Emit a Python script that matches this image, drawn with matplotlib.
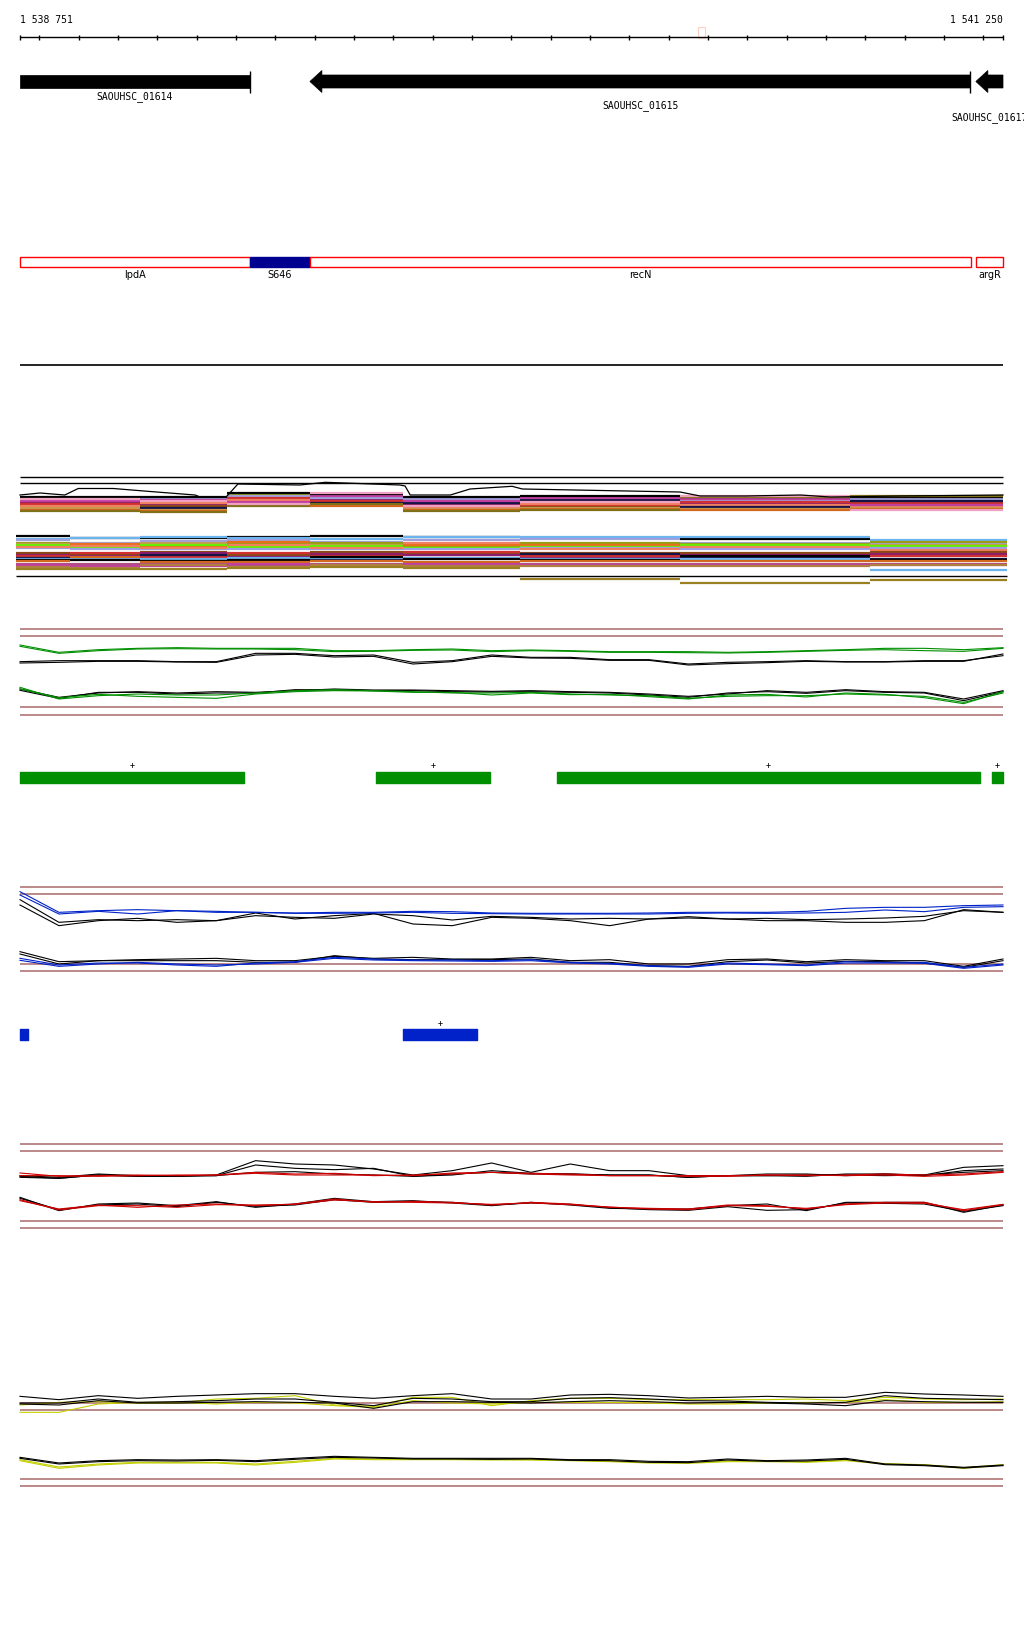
import matplotlib
matplotlib.use('Agg')
import matplotlib.pyplot as plt
from matplotlib.patches import Polygon, Rectangle

W_PX, H_PX = 1024, 1640
PX_LEFT, PX_RIGHT = 20, 1003

VIEW_START = 1538751
VIEW_END = 1541250
tick_step = 100

# genes, all on the minus strand
gene_names = ['SAOUHSC_01614', 'SAOUHSC_01615', 'SAOUHSC_01617']
gene_start = [1538420, 1539488, 1541181]
gene_end = [1539336, 1541167, 1541720]
gene_label_row = [0, 1, 2]

# annotations
ann_names = ['lpdA', 'S646', 'recN', 'argR']
ann_start = [1538420, 1539336, 1539488, 1541181]
ann_end = [1539336, 1539488, 1541169, 1541720]
ann_kind = ['cds', 'srna', 'cds', 'cds']

# transcribed regions
green_start = [1538751, 1539656, 1540116, 1541222]
green_end = [1539320, 1539946, 1541191, 1541250]
green_strand = ['+', '+', '+', '+']
blue_start = [1538751, 1539725]
blue_end = [1538771, 1539913]
blue_strand = ['', '+']

# condition tracks: step segments
edges_a = [1538751, 1539056, 1539277, 1539488, 1539725, 1540023, 1540429, 1540862, 1541250]
edges_b = [1538741, 1538878, 1539056, 1539277, 1539488, 1539725, 1540023, 1540429, 1540913, 1541259]

levels_a = [
    ('#e8701a', [29, 33, 26, 30, 31, 28, 35, 29]),
    ('#6cb4f0', [30, 30, 28, 27, 29, 30, 29, 31]),
    ('#9c9c14', [33, 36, 25, 33, 35, 34, 32, 33]),
    ('#66ee00', [36, 38, 30, 28, 33, 36, 37, 35]),
    ('#8b1c6e', [34, 35, 32, 31, 36, 33, 34, 37]),
    ('#a0a0dc', [31, 29, 27, 29, 30, 32, 31, 30]),
    ('#d03030', [35, 40, 29, 32, 38, 37, 33, 34]),
    ('#8b4a14', [38, 37, 33, 35, 37, 38, 39, 36]),
    ('#f08060', [37, 34, 31, 26, 39, 35, 36, 38]),
    ('#141446', [40, 39, 35, 34, 34, 31, 38, 32]),
    ('#c89a50', [39, 41, 34, 36, 40, 39, 40, 39]),
    ('#d2691e', [41, 42, 36, 37, 41, 40, 41, 40]),
    ('#c040a0', [32, 31, 33, 27, 32, 29, 30, 36]),
    ('#000000', [28, 28, 24, 25, 28, 27, 28, 28]),
    ('#807018', [42, 43, 37, 35, 42, 41, 28, 27]),
    ('#f0a0c0', [30, 32, 35, 24, 37, 33, 27, 41]),
]
levels_b = [
    ('#000000', [67, 69, 69, 68, 67, 68, 69, 70, 72]),
    ('#6cb4f0', [70, 69, 68, 69, 70, 68, 68, 68, 71]),
    ('#a0a0dc', [71, 74, 72, 71, 73, 71, 70, 74, 75]),
    ('#9c9c14', [74, 76, 77, 75, 74, 77, 74, 75, 73]),
    ('#c89a50', [75, 78, 74, 77, 76, 75, 77, 77, 76]),
    ('#e8701a', [77, 75, 78, 73, 78, 76, 76, 79, 78]),
    ('#66ee00', [76, 79, 76, 78, 77, 79, 78, 76, 77]),
    ('#9aa0e8', [79, 80, 80, 80, 80, 80, 79, 80, 79]),
    ('#f08060', [78, 77, 79, 76, 79, 74, 80, 78, 81]),
    ('#8b4a14', [84, 85, 83, 86, 83, 85, 84, 84, 83]),
    ('#8b1c6e', [86, 87, 84, 88, 85, 86, 88, 86, 85]),
    ('#d03030', [87, 84, 88, 84, 87, 83, 87, 88, 87]),
    ('#141446', [89, 90, 86, 90, 90, 89, 85, 89, 90]),
    ('#6cb4f0', [90, 89, 90, 89, 89, 89, 90, 90, 101]),
    ('#000000', [91, 91, 92, 91, 88, 90, 91, 87, 91]),
    ('#d2691e', [92, 88, 93, 93, 92, 93, 92, 92, 92]),
    ('#b05080', [95, 95, 95, 96, 95, 96, 95, 95, 95]),
    ('#c040a0', [96, 97, 97, 95, 97, 95, 96, 96, 96]),
    ('#b08040', [98, 99, 96, 98, 96, 97, 97, 97, 96]),
    ('#9a8020', [100, 100, 100, 99, 98, 99, 110, 114, 111]),
]
wave_pos = [1538751, 1538802, 1538865, 1538899, 1538988, 1539082, 1539196, 1539209, 1539275,
            1539305, 1539463, 1539527, 1539717, 1539730, 1539743, 1539845, 1539895, 1540002,
            1540028, 1540429, 1540480, 1540595, 1540735, 1540811, 1540989, 1541250]
wave_val = [26, 24, 26, 19.5, 19.5, 22.5, 26, 28, 28, 15, 16, 13.3, 16, 17, 26, 26, 20, 17.3,
            20, 23, 27, 27, 26, 28, 27, 26]

# coverage traces, sampled every 100 bp
pos = [VIEW_START] + list(range(1538850, VIEW_END, 100)) + [VIEW_END]

g_up_green1 = [78, 100, 92, 88, 86, 88, 88, 88, 95, 95, 92, 90, 95, 93, 95, 98, 98, 98, 100, 98, 95, 92, 88, 88, 92, 86]
g_up_green2 = [82, 103, 95, 90, 89, 90, 90, 92, 98, 97, 94, 93, 98, 95, 97, 100, 100, 101, 102, 100, 97, 94, 92, 95, 97, 88]
g_up_black1 = [128, 125, 125, 125, 128, 128, 103, 103, 110, 108, 130, 125, 108, 115, 115, 122, 122, 135, 130, 128, 125, 128, 128, 125, 125, 110]
g_up_black2 = [132, 130, 127, 127, 129, 130, 108, 106, 114, 112, 135, 128, 112, 117, 118, 124, 124, 138, 134, 131, 127, 129, 129, 127, 127, 105]
g_lo_black1 = [210, 235, 222, 218, 222, 218, 220, 215, 210, 213, 213, 215, 217, 215, 218, 220, 225, 232, 225, 215, 220, 212, 218, 220, 240, 215]
g_lo_black2 = [214, 238, 220, 220, 225, 222, 222, 212, 213, 215, 215, 218, 219, 218, 220, 222, 228, 235, 222, 218, 223, 215, 220, 222, 245, 218]
g_lo_green1 = [205, 240, 230, 225, 228, 228, 222, 215, 212, 215, 218, 222, 222, 220, 225, 228, 230, 238, 232, 230, 230, 225, 228, 232, 250, 222]
g_lo_green2 = [210, 236, 226, 232, 235, 238, 225, 218, 215, 216, 220, 220, 228, 222, 227, 226, 233, 240, 228, 226, 234, 222, 226, 236, 254, 218]

b_up_blue1 = [38, 100, 95, 92, 95, 97, 100, 102, 100, 100, 97, 98, 102, 103, 103, 103, 102, 100, 100, 100, 97, 88, 85, 85, 80, 78]
b_up_blue2 = [48, 105, 97, 105, 95, 100, 100, 103, 103, 102, 100, 103, 104, 105, 105, 105, 105, 103, 102, 103, 102, 100, 93, 98, 85, 83]
b_up_black1 = [62, 130, 122, 125, 122, 125, 110, 115, 118, 105, 110, 123, 112, 115, 120, 118, 120, 117, 120, 118, 122, 120, 117, 112, 95, 100]
b_up_black2 = [78, 140, 125, 118, 130, 125, 102, 120, 110, 103, 135, 140, 115, 118, 125, 140, 120, 113, 120, 125, 125, 130, 130, 125, 92, 100]
b_lo_black1 = [218, 248, 245, 242, 240, 238, 245, 245, 232, 238, 235, 240, 240, 235, 245, 242, 255, 255, 242, 240, 248, 242, 245, 245, 262, 240]
b_lo_black2 = [225, 255, 245, 245, 245, 245, 250, 250, 230, 240, 242, 242, 242, 240, 250, 250, 260, 262, 248, 243, 252, 247, 248, 252, 265, 245]
b_lo_blue1 = [238, 258, 252, 252, 258, 262, 252, 248, 235, 240, 243, 243, 245, 242, 250, 253, 260, 263, 252, 255, 258, 248, 250, 250, 265, 255]
b_lo_blue2 = [244, 262, 255, 250, 255, 258, 255, 250, 238, 243, 245, 246, 247, 245, 252, 255, 262, 265, 255, 257, 260, 252, 252, 253, 268, 258]

r_up_black1 = [110, 115, 105, 110, 112, 108, 65, 75, 78, 90, 108, 95, 72, 100, 75, 95, 95, 110, 110, 105, 105, 110, 105, 108, 85, 80]
r_up_black2 = [115, 118, 108, 112, 112, 110, 78, 88, 92, 88, 112, 108, 95, 103, 105, 108, 108, 115, 110, 110, 112, 105, 105, 110, 95, 90]
r_up_black3 = [112, 118, 108, 112, 110, 110, 100, 98, 105, 108, 112, 105, 100, 105, 105, 108, 108, 115, 110, 110, 108, 108, 110, 108, 100, 95]
r_up_red1 = [102, 112, 110, 108, 110, 108, 100, 105, 103, 110, 108, 105, 100, 105, 108, 110, 110, 110, 110, 108, 110, 108, 105, 108, 105, 98]
r_up_red2 = [110, 110, 112, 110, 108, 108, 103, 108, 108, 108, 110, 102, 100, 103, 105, 110, 110, 112, 112, 108, 108, 110, 108, 112, 108, 100]
r_lo_black1 = [175, 215, 195, 192, 200, 188, 205, 195, 178, 188, 185, 192, 200, 190, 198, 208, 210, 210, 200, 195, 215, 190, 190, 190, 220, 198]
r_lo_black2 = [178, 212, 198, 195, 203, 190, 202, 198, 182, 190, 188, 190, 198, 192, 196, 206, 212, 214, 203, 214, 212, 192, 193, 195, 217, 200]
r_lo_red1 = [185, 210, 198, 205, 198, 195, 200, 195, 180, 190, 187, 190, 198, 190, 195, 205, 208, 210, 198, 200, 210, 195, 190, 190, 215, 197]
r_lo_red2 = [182, 213, 200, 200, 205, 197, 198, 196, 183, 188, 190, 192, 196, 192, 197, 204, 210, 212, 200, 202, 208, 197, 192, 193, 212, 196]

y_up_black1 = [52, 62, 50, 58, 52, 48, 44, 44, 52, 58, 50, 44, 60, 60, 48, 46, 50, 57, 55, 52, 55, 55, 40, 45, 48, 52]
y_up_black2 = [72, 72, 60, 70, 68, 65, 60, 60, 70, 80, 58, 60, 68, 68, 58, 56, 60, 65, 66, 70, 72, 70, 50, 58, 60, 62]
y_up_black3 = [75, 78, 65, 72, 72, 70, 68, 70, 72, 88, 68, 68, 70, 72, 68, 65, 68, 72, 70, 72, 75, 80, 65, 68, 70, 70]
y_up_yellow1 = [78, 70, 68, 72, 72, 60, 58, 50, 78, 82, 55, 55, 80, 65, 58, 58, 62, 62, 62, 62, 60, 65, 55, 60, 62, 60]
y_up_yellow2 = [100, 100, 75, 70, 70, 75, 70, 72, 80, 85, 65, 72, 75, 70, 70, 70, 72, 75, 75, 72, 70, 70, 62, 70, 70, 68]
y_lo_black1 = [235, 252, 245, 242, 243, 242, 245, 238, 232, 235, 238, 238, 238, 238, 242, 242, 247, 248, 240, 245, 243, 238, 255, 258, 265, 258]
y_lo_black2 = [238, 255, 248, 245, 246, 244, 248, 241, 235, 237, 240, 240, 241, 240, 244, 245, 250, 251, 243, 247, 246, 241, 257, 260, 267, 260]
y_lo_yellow1 = [245, 268, 258, 252, 252, 252, 258, 250, 240, 242, 242, 242, 243, 243, 245, 248, 252, 253, 248, 248, 250, 245, 255, 258, 268, 258]
y_lo_yellow2 = [242, 264, 255, 250, 250, 250, 255, 247, 238, 240, 240, 240, 241, 242, 244, 246, 250, 251, 246, 246, 248, 243, 254, 257, 266, 257]

REF_COLOR = '#a86a6a'
GREEN = '#008f00'
BLUE = '#0022c8'
RED = '#cc0000'
YELLOW = '#c3cf00'
MONO = 'DejaVu Sans Mono'

bpp = (VIEW_END - VIEW_START) / (PX_RIGHT - PX_LEFT)
XLIM = (VIEW_START - PX_LEFT * bpp, VIEW_END + (W_PX - PX_RIGHT) * bpp)

fig = plt.figure(figsize=(W_PX / 100, H_PX / 100), dpi=100)


def track(top, height, yunits):
    ax = fig.add_axes([0, 1 - (top + height) / H_PX, 1, height / H_PX])
    ax.set_xlim(XLIM)
    ax.set_ylim(yunits, 0)
    ax.axis('off')
    return ax


def visible(s, e):
    return max(s, VIEW_START), min(e, VIEW_END)


# ruler + genes
ax = track(0, 130, 130)
ax.hlines(38, VIEW_START, VIEW_END, color='k', lw=1)
ticks = [VIEW_START] + list(range(1538800, VIEW_END, tick_step)) + [VIEW_END]
ax.vlines(ticks, 35.5, 40.5, color='k', lw=1)
fmt = lambda v: f'{v:,}'.replace(',', ' ')
ax.text(VIEW_START, 20, fmt(VIEW_START), ha='left', va='center', fontsize=7, family=MONO)
ax.text(VIEW_END, 20, fmt(VIEW_END), ha='right', va='center', fontsize=7, family=MONO)
ax.add_patch(Rectangle((1540475, 28), 17, 11, fill=False, ec='#ffd0c0', lw=0.8))

head = 12 * bpp
mid = 82.5
for name, s, e, row in zip(gene_names, gene_start, gene_end, gene_label_row):
    vs, ve = visible(s, e)
    if s >= VIEW_START:
        pts = [(s, mid), (s + head, mid - 11), (s + head, mid - 6.5), (ve, mid - 6.5),
               (ve, mid + 6.5), (s + head, mid + 6.5), (s + head, mid + 11)]
    else:
        pts = [(vs, mid - 6.5), (ve, mid - 6.5), (ve, mid + 6.5), (vs, mid + 6.5)]
    ax.add_patch(Polygon(pts, closed=True, fc='k', ec='k', lw=0.5))
    if e <= VIEW_END:
        ax.vlines(e, mid - 11, mid + 11, color='k', lw=1)
    ax.text((vs + ve) / 2, 97 + [0, 9, 21][row], name, ha='center', va='center',
            fontsize=7, family=MONO)

# annotation boxes
ax = track(240, 140, 140)
for name, s, e, kind in zip(ann_names, ann_start, ann_end, ann_kind):
    vs, ve = visible(s, e)
    if kind == 'srna':
        ax.add_patch(Rectangle((vs, 18.3), ve - vs, 10, fc='#000090', ec='#000090', lw=1))
    else:
        ax.add_patch(Rectangle((vs, 18.3), ve - vs, 10, fc='white', ec='#ff0000', lw=1))
    ax.text((vs + ve) / 2, 35.5, name, ha='center', va='center', fontsize=7)
ax.hlines(126, VIEW_START, VIEW_END, color='k', lw=1.2)

# condition overview track
ax = track(470, 120, 120)
ax.hlines([8.3, 14.3], VIEW_START, VIEW_END, color='k', lw=1)
for c, v in levels_a:
    ax.hlines(v, edges_a[:-1], edges_a[1:], color=c, lw=1.6)
ax.plot(wave_pos, wave_val, color='k', lw=0.9)
for c, v in levels_b:
    ax.hlines(v, edges_b[:-1], edges_b[1:], color=c, lw=1.6)
ax.hlines(107, edges_b[0], edges_b[-1], color='k', lw=1)


def signal_track(top, height, refs, traces):
    ax = track(top, height, 3 * height)
    ax.hlines(refs, VIEW_START, VIEW_END, color=REF_COLOR, lw=1.1)
    for y, c in traces:
        ax.plot(pos, y, color=c, lw=0.8)


def feature_track(top, starts, ends, strands, color, box_top):
    ax = track(top, 50, 50)
    ax.broken_barh([(s, e - s) for s, e in zip(starts, ends)], (box_top, 10.5), color=color)
    for s, e, st in zip(starts, ends, strands):
        ax.text((s + e) / 2, box_top - 7, st, ha='center', va='center', fontsize=6, family=MONO)


signal_track(620, 100, [31, 52, 265, 287], [
    (g_up_green1, GREEN), (g_up_green2, GREEN), (g_up_black1, 'k'), (g_up_black2, 'k'),
    (g_lo_black1, 'k'), (g_lo_black2, 'k'), (g_lo_green1, GREEN), (g_lo_green2, GREEN)])
feature_track(750, green_start, green_end, green_strand, GREEN, 23)

signal_track(880, 100, [25, 46, 256, 277], [
    (b_up_black1, 'k'), (b_up_black2, 'k'), (b_up_blue1, BLUE), (b_up_blue2, BLUE),
    (b_lo_black1, 'k'), (b_lo_black2, 'k'), (b_lo_blue1, BLUE), (b_lo_blue2, BLUE)])
feature_track(1010, blue_start, blue_end, blue_strand, BLUE, 20)

signal_track(1140, 100, [16, 37, 247, 268], [
    (r_up_black1, 'k'), (r_up_black2, 'k'), (r_up_black3, 'k'), (r_up_red1, RED), (r_up_red2, RED),
    (r_lo_black1, 'k'), (r_lo_black2, 'k'), (r_lo_red1, RED), (r_lo_red2, RED)])

signal_track(1380, 120, [71, 92, 300, 322], [
    (y_up_yellow1, YELLOW), (y_up_yellow2, YELLOW), (y_up_black1, 'k'), (y_up_black2, 'k'),
    (y_up_black3, 'k'), (y_lo_yellow1, YELLOW), (y_lo_yellow2, YELLOW),
    (y_lo_black1, 'k'), (y_lo_black2, 'k')])

fig.savefig('out.png', dpi=100)
